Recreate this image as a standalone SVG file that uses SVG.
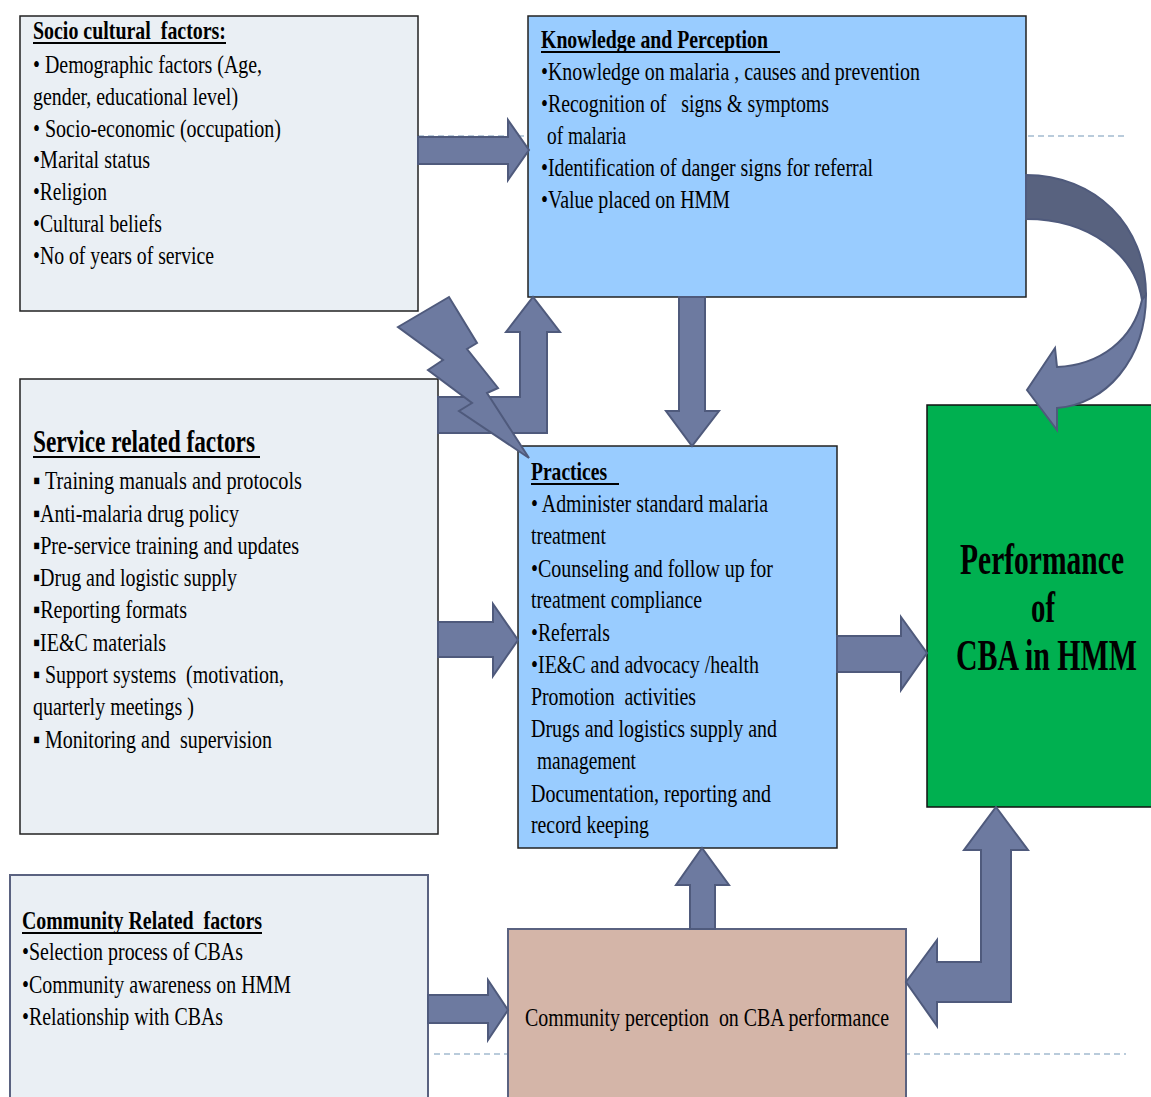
<svg xmlns="http://www.w3.org/2000/svg" width="1151" height="1097" viewBox="0 0 1151 1097" xml:space="preserve">
<style>
  .t{font-family:"Liberation Serif","Times New Roman",serif;font-size:26px;fill:#000;white-space:pre}
  .b{font-weight:bold}
  .perf{font-size:44px}
  .st{font-size:31px}
  .c25{font-size:25px}
  .grey{fill:#EAEFF4;stroke:#222;stroke-width:1.5}
  .blue{fill:#99CCFF;stroke:#222;stroke-width:1.5}
  .arrow{fill:#6D7AA0;stroke:#4F5A7C;stroke-width:2;stroke-linejoin:miter}
  .dark{fill:#58627F;stroke:#4F5A7C;stroke-width:2}
  .ul{stroke:#000;stroke-width:2}
  .dash{stroke:#A3BAD0;stroke-width:1.5;stroke-dasharray:6 4;fill:none}
</style>
<rect width="1151" height="1097" fill="#fff"/>
<g id="dashes">
  <line class="dash" x1="418" y1="136" x2="1126" y2="136"/>
  <line class="dash" x1="434" y1="1054" x2="1126" y2="1054"/>
</g>

<g id="socio">
  <rect class="grey" x="20" y="16" width="398" height="295"/>
  <text class="t b" x="33" y="39" textLength="193" lengthAdjust="spacingAndGlyphs">Socio cultural  factors:</text>
  <line class="ul" x1="33" y1="43" x2="226" y2="43"/>
  <text class="t" x="33" y="73" textLength="229" lengthAdjust="spacingAndGlyphs">• Demographic factors (Age,</text>
  <text class="t" x="33" y="105" textLength="205" lengthAdjust="spacingAndGlyphs">gender, educational level)</text>
  <text class="t" x="33" y="137" textLength="248" lengthAdjust="spacingAndGlyphs">• Socio-economic (occupation)</text>
  <text class="t" x="33" y="168" textLength="117" lengthAdjust="spacingAndGlyphs">•Marital status</text>
  <text class="t" x="33" y="200" textLength="74" lengthAdjust="spacingAndGlyphs">•Religion</text>
  <text class="t" x="33" y="232" textLength="129" lengthAdjust="spacingAndGlyphs">•Cultural beliefs</text>
  <text class="t" x="33" y="264" textLength="181" lengthAdjust="spacingAndGlyphs">•No of years of service</text>
</g>

<g id="knowledge">
  <rect class="blue" x="528" y="16" width="498" height="281"/>
  <text class="t b" x="541" y="48" textLength="227" lengthAdjust="spacingAndGlyphs">Knowledge and Perception</text>
  <line class="ul" x1="541" y1="52" x2="780" y2="52"/>
  <text class="t" x="541" y="80" textLength="379" lengthAdjust="spacingAndGlyphs">•Knowledge on malaria , causes and prevention</text>
  <text class="t" x="541" y="112" textLength="288" lengthAdjust="spacingAndGlyphs">•Recognition of   signs &amp; symptoms</text>
  <text class="t" x="547" y="144" textLength="79" lengthAdjust="spacingAndGlyphs">of malaria</text>
  <text class="t" x="541" y="176" textLength="332" lengthAdjust="spacingAndGlyphs">•Identification of danger signs for referral</text>
  <text class="t" x="541" y="208" textLength="189" lengthAdjust="spacingAndGlyphs">•Value placed on HMM</text>
</g>

<g id="service">
  <rect class="grey" x="20" y="379" width="418" height="455"/>
  <text class="t b st" x="33" y="452" textLength="222" lengthAdjust="spacingAndGlyphs">Service related factors</text>
  <line class="ul" x1="33" y1="457" x2="260" y2="457"/>
  <text class="t" x="33" y="489" textLength="269" lengthAdjust="spacingAndGlyphs">▪ Training manuals and protocols</text>
  <text class="t" x="33" y="522" textLength="206" lengthAdjust="spacingAndGlyphs">▪Anti-malaria drug policy</text>
  <text class="t" x="33" y="554" textLength="266" lengthAdjust="spacingAndGlyphs">▪Pre-service training and updates</text>
  <text class="t" x="33" y="586" textLength="204" lengthAdjust="spacingAndGlyphs">▪Drug and logistic supply</text>
  <text class="t" x="33" y="618" textLength="154" lengthAdjust="spacingAndGlyphs">▪Reporting formats</text>
  <text class="t" x="33" y="651" textLength="133" lengthAdjust="spacingAndGlyphs">▪IE&amp;C materials</text>
  <text class="t" x="33" y="683" textLength="251" lengthAdjust="spacingAndGlyphs">▪ Support systems  (motivation,</text>
  <text class="t" x="33" y="715" textLength="161" lengthAdjust="spacingAndGlyphs">quarterly meetings )</text>
  <text class="t" x="33" y="748" textLength="239" lengthAdjust="spacingAndGlyphs">▪ Monitoring and  supervision</text>
</g>

<g id="practices">
  <rect class="blue" x="518" y="446" width="319" height="402"/>
  <text class="t b" x="531" y="480" textLength="76" lengthAdjust="spacingAndGlyphs">Practices</text>
  <line class="ul" x1="531" y1="484" x2="619" y2="484"/>
  <text class="t" x="531" y="512" textLength="237" lengthAdjust="spacingAndGlyphs">• Administer standard malaria</text>
  <text class="t" x="531" y="544" textLength="75" lengthAdjust="spacingAndGlyphs">treatment</text>
  <text class="t" x="531" y="577" textLength="242" lengthAdjust="spacingAndGlyphs">•Counseling and follow up for</text>
  <text class="t" x="531" y="608" textLength="171" lengthAdjust="spacingAndGlyphs">treatment compliance</text>
  <text class="t" x="531" y="641" textLength="79" lengthAdjust="spacingAndGlyphs">•Referrals</text>
  <text class="t" x="531" y="673" textLength="228" lengthAdjust="spacingAndGlyphs">•IE&amp;C and advocacy /health</text>
  <text class="t" x="531" y="705" textLength="165" lengthAdjust="spacingAndGlyphs">Promotion  activities</text>
  <text class="t" x="531" y="737" textLength="246" lengthAdjust="spacingAndGlyphs">Drugs and logistics supply and</text>
  <text class="t" x="537" y="769" textLength="99" lengthAdjust="spacingAndGlyphs">management</text>
  <text class="t" x="531" y="802" textLength="240" lengthAdjust="spacingAndGlyphs">Documentation, reporting and</text>
  <text class="t" x="531" y="833" textLength="118" lengthAdjust="spacingAndGlyphs">record keeping</text>
</g>

<g id="performance">
  <rect x="927" y="405" width="226" height="402" fill="#00B050" stroke="#111" stroke-width="1.5"/>
  <text class="t b perf" x="960" y="574" textLength="164" lengthAdjust="spacingAndGlyphs">Performance</text>
  <text class="t b perf" x="1031" y="622" textLength="24" lengthAdjust="spacingAndGlyphs">of</text>
  <text class="t b perf" x="956" y="670" textLength="181" lengthAdjust="spacingAndGlyphs">CBA in HMM</text>
</g>

<g id="community">
  <rect x="10" y="875" width="418" height="240" fill="#EAEFF4" stroke="#5A6280" stroke-width="2"/>
  <text class="t b c25" x="22" y="929" textLength="240" lengthAdjust="spacingAndGlyphs">Community Related  factors</text>
  <line class="ul" x1="22" y1="933" x2="262" y2="933"/>
  <text class="t" x="22" y="960" textLength="221" lengthAdjust="spacingAndGlyphs">•Selection process of CBAs</text>
  <text class="t" x="22" y="993" textLength="269" lengthAdjust="spacingAndGlyphs">•Community awareness on HMM</text>
  <text class="t" x="22" y="1025" textLength="201" lengthAdjust="spacingAndGlyphs">•Relationship with CBAs</text>
</g>

<g id="perception">
  <rect x="508" y="929" width="398" height="190" fill="#D4B5A8" stroke="#5A6280" stroke-width="2"/>
  <text class="t c25" x="525" y="1026" textLength="364" lengthAdjust="spacingAndGlyphs">Community perception  on CBA performance</text>
</g>

<g id="connectors">
  <path class="arrow" d="M418,137 L508,137 L508,120 L529,150 L508,180 L508,164 L418,164 Z"/>
  <path class="arrow" d="M679,297 L705,297 L705,411 L719,411 L692,446 L666,411 L679,411 Z"/>
  <path class="arrow" d="M837,636 L901,636 L901,617 L927,653 L901,690 L901,672 L837,672 Z"/>
  <path class="arrow" d="M438,622 L493,622 L493,604 L518,640 L493,676 L493,657 L438,657 Z"/>
  <path class="arrow" d="M428,995 L488,995 L488,980 L508,1010 L488,1040 L488,1023 L428,1023 Z"/>
  <path class="arrow" d="M690,929 L690,885 L676,885 L702,848 L729,885 L715,885 L715,929 Z"/>
  <path class="arrow" d="M438,397 L520,397 L520,332 L506,332 L533,297 L560,332 L547,332 L547,433 L438,433 Z"/>
  <path class="arrow" d="M996,807 L1028,850 L1011,850 L1011,1002 L937,1002 L937,1026 L906,982 L937,940 L937,962 L981,962 L981,850 L964,850 Z"/>
  <path class="arrow" d="M398,327 L449,297 L477,343 L467,349 L498,388 L487,393 L529,458 L459,411 L472,403 L428,370 L443,360 Z"/>
  <path class="dark" d="M1026,175 C1095,175 1146,225 1146,295 L1142,300 C1135,255 1090,219 1026,219 Z"/>
  <path class="arrow" d="M1146,295 C1146,360 1105,405 1057,408 L1057,430 L1027,390 L1055,348 L1057,367 C1100,365 1133,340 1142,300 Z"/>
</g>
</svg>
